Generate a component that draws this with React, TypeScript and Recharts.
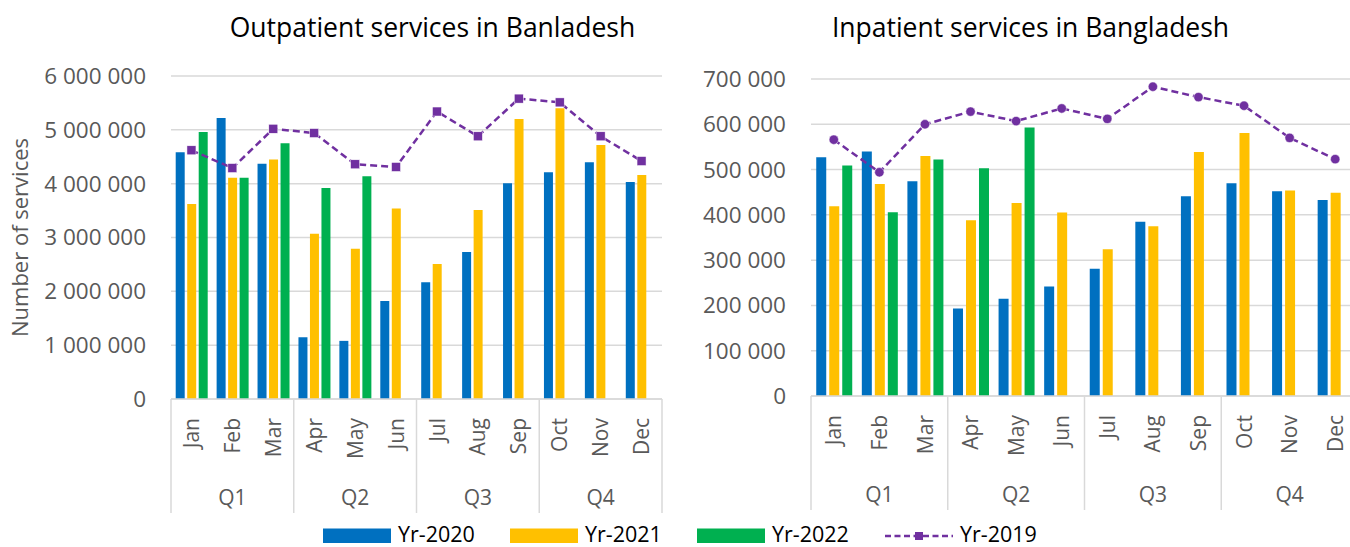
import React from 'react';
import { ComposedChart, Bar, Line, XAxis, YAxis, CartesianGrid } from 'recharts';

const months = ['Jan', 'Feb', 'Mar', 'Apr', 'May', 'Jun', 'Jul', 'Aug', 'Sep', 'Oct', 'Nov', 'Dec'];
const quarters = ['Q1', 'Q2', 'Q3', 'Q4'];

const outpatient2020 = [4585000, 5220000, 4370000, 1147000, 1080000, 1820000, 2170000, 2730000, 4010000, 4210000, 4400000, 4030000];
const outpatient2021 = [3620000, 4110000, 4450000, 3070000, 2790000, 3540000, 2510000, 3510000, 5200000, 5400000, 4720000, 4160000];
const outpatient2022 = [4960000, 4110000, 4750000, 3920000, 4140000, null, null, null, null, null, null, null];
const outpatient2019 = [4620000, 4290000, 5020000, 4940000, 4360000, 4310000, 5340000, 4880000, 5580000, 5510000, 4880000, 4420000];

const inpatient2020 = [527000, 540000, 474000, 193000, 215000, 242000, 281000, 385000, 441000, 470000, 452000, 433000];
const inpatient2021 = [419000, 468000, 530000, 388000, 426000, 405000, 324000, 375000, 539000, 581000, 454000, 449000];
const inpatient2022 = [509000, 406000, 522000, 503000, 593000, null, null, null, null, null, null, null];
const inpatient2019 = [566000, 494000, 600000, 628000, 607000, 635000, 612000, 683000, 660000, 641000, 570000, 523000];

const outTicks = [0, 1000000, 2000000, 3000000, 4000000, 5000000, 6000000];
const inTicks = [0, 100000, 200000, 300000, 400000, 500000, 600000, 700000];

const titles = ['Outpatient services in Banladesh', 'Inpatient services in Bangladesh'];
const yAxisTitle = 'Number of services';

const seriesBars = [
  { key: 'y2020', name: 'Yr-2020', color: '#0070C0' },
  { key: 'y2021', name: 'Yr-2021', color: '#FFC000' },
  { key: 'y2022', name: 'Yr-2022', color: '#00B050' },
];
const lineSeries = { key: 'y2019', name: 'Yr-2019', color: '#7030A0' };

const FONT = '"Open Sans", "Noto Sans", sans-serif';
const GRAY = '#595959';
const GRID = '#d9d9d9';

const buildRows = (a: (number | null)[], b: (number | null)[], c: (number | null)[], d: (number | null)[]) =>
  months.map((m, i) => ({ month: m, y2020: a[i], y2021: b[i], y2022: c[i], y2019: d[i] }));

const outRows = buildRows(outpatient2020, outpatient2021, outpatient2022, outpatient2019);
const inRows = buildRows(inpatient2020, inpatient2021, inpatient2022, inpatient2019);

const fmt = (v: number) => String(v).replace(/\B(?=(\d{3})+(?!\d))/g, ' ');

const makeTick = (monthTop: number, qBase: number, sepLen: number) => (props: any) => {
  const { x, y, payload } = props;
  const i = payload.index;
  const half = payload.offset ?? 0;
  const ty = y + monthTop;
  return (
    <g>
      <text
        x={x}
        y={ty}
        dy="0.36em"
        transform={`rotate(-90 ${x} ${ty})`}
        textAnchor="end"
        fill={GRAY}
        fontSize={21}
        fontFamily={FONT}
      >
        {payload.value}
      </text>
      {i % 3 === 1 && (
        <text x={x} y={y + qBase} textAnchor="middle" fill={GRAY} fontSize={21} fontFamily={FONT}>
          {quarters[Math.floor(i / 3)]}
        </text>
      )}
      {i % 3 === 0 && <line x1={x - half} x2={x - half} y1={y} y2={y + sepLen} stroke={GRID} strokeWidth={1.5} />}
      {i === months.length - 1 && (
        <line x1={x + half} x2={x + half} y1={y} y2={y + sepLen} stroke={GRID} strokeWidth={1.5} />
      )}
    </g>
  );
};

const SquareDot = (props: any) => {
  const { cx, cy } = props;
  if (cx == null || cy == null) return null;
  return <rect x={cx - 4.5} y={cy - 4.5} width={9} height={9} fill={lineSeries.color} stroke="#ffffff" strokeWidth={0.5} />;
};
const CircleDot = (props: any) => {
  const { cx, cy } = props;
  if (cx == null || cy == null) return null;
  return <circle cx={cx} cy={cy} r={4.7} fill={lineSeries.color} stroke="#ffffff" strokeWidth={0.5} />;
};

type PanelProps = {
  rows: any[];
  ticks: number[];
  width: number;
  height: number;
  margin: { top: number; right: number; bottom: number; left: number };
  yWidth: number;
  barGap: number;
  showYTitle: boolean;
  dot: any;
};

const Panel = ({ rows, ticks, width, height, margin, yWidth, barGap, showYTitle, dot }: PanelProps) => (
  <ComposedChart width={width} height={height} data={rows} margin={margin} barCategoryGap="11.5%" barGap={barGap}>
    <CartesianGrid vertical={false} stroke={GRID} strokeWidth={1.5} />
    <XAxis
      dataKey="month"
      interval={0}
      height={120}
      tickLine={false}
      tickSize={0}
      tickMargin={0}
      axisLine={{ stroke: GRID, strokeWidth: 1.5 }}
      tick={makeTick(19, 106, 114)}
    />
    <YAxis
      domain={[0, ticks[ticks.length - 1]]}
      ticks={ticks}
      interval={0}
      width={yWidth}
      axisLine={false}
      tickLine={false}
      tickSize={0}
      tickMargin={25}
      tickFormatter={fmt}
      tick={{ fill: GRAY, fontSize: 22.5, fontFamily: FONT }}
      label={
        showYTitle
          ? {
              content: (p: any) => {
                const vb = p.viewBox || {};
                const cx = (vb.x ?? 0) + 20;
                const cy = (vb.y ?? 0) + (vb.height ?? 0) / 2;
                return (
                  <text
                    x={cx}
                    y={cy}
                    dy="0.36em"
                    transform={`rotate(-90 ${cx} ${cy})`}
                    textAnchor="middle"
                    fill={GRAY}
                    fontSize={22}
                    fontFamily={FONT}
                  >
                    {yAxisTitle}
                  </text>
                );
              },
            }
          : undefined
      }
    />
    {seriesBars.map((s) => (
      <Bar key={s.key} dataKey={s.key} name={s.name} fill={s.color} isAnimationActive={false} />
    ))}
    <Line
      dataKey={lineSeries.key}
      name={lineSeries.name}
      stroke={lineSeries.color}
      strokeWidth={2.5}
      strokeDasharray="7 4"
      dot={dot}
      activeDot={false}
      isAnimationActive={false}
    />
  </ComposedChart>
);

const LEGEND_STEP = 187;
const LegendRow = () => (
  <svg width={800} height={40} style={{ position: 'absolute', left: 318, top: 507, overflow: 'visible' }}>
    {seriesBars.map((s, i) => (
      <g key={s.key} transform={`translate(${5 + i * LEGEND_STEP}, 0)`}>
        <rect x={0} y={21.5} width={68} height={14.5} fill={s.color} />
        <text x={75} y={35} fontSize={21.5} fontFamily={FONT} fill="#000">
          {s.name}
        </text>
      </g>
    ))}
    <g transform={`translate(${5 + 3 * LEGEND_STEP}, 0)`}>
      <line x1={1} x2={69} y1={29} y2={29} stroke={lineSeries.color} strokeWidth={2.5} strokeDasharray="6 3.5" />
      <rect x={31} y={25} width={8} height={8} fill={lineSeries.color} />
      <text x={76} y={35} fontSize={21.5} fontFamily={FONT} fill="#000">
        {lineSeries.name}
      </text>
    </g>
  </svg>
);

export default function App() {
  return (
    <div style={{ position: 'fixed', left: 0, top: 0, width: 1350, height: 547, overflow: 'hidden', background: '#fff' }}>
      <svg width={1350} height={60} style={{ position: 'absolute', left: 0, top: 0 }}>
        <text x={432.5} y={37} textAnchor="middle" fontSize={26.5} fontFamily={FONT} fill="#000">
          {titles[0]}
        </text>
        <text x={1030.5} y={37} textAnchor="middle" fontSize={26.5} fontFamily={FONT} fill="#000">
          {titles[1]}
        </text>
      </svg>
      <div style={{ position: 'absolute', left: 0, top: 0 }}>
        <Panel
          rows={outRows}
          ticks={outTicks}
          width={680}
          height={547}
          margin={{ top: 76, right: 18, bottom: 28, left: 0 }}
          yWidth={171}
          barGap={2.5}
          showYTitle={true}
          dot={<SquareDot />}
        />
      </div>
      <div style={{ position: 'absolute', left: 680, top: 0 }}>
        <Panel
          rows={inRows}
          ticks={inTicks}
          width={690}
          height={547}
          margin={{ top: 79, right: 12, bottom: 31, left: 0 }}
          yWidth={131}
          barGap={3}
          showYTitle={false}
          dot={<CircleDot />}
        />
      </div>
      <LegendRow />
    </div>
  );
}
